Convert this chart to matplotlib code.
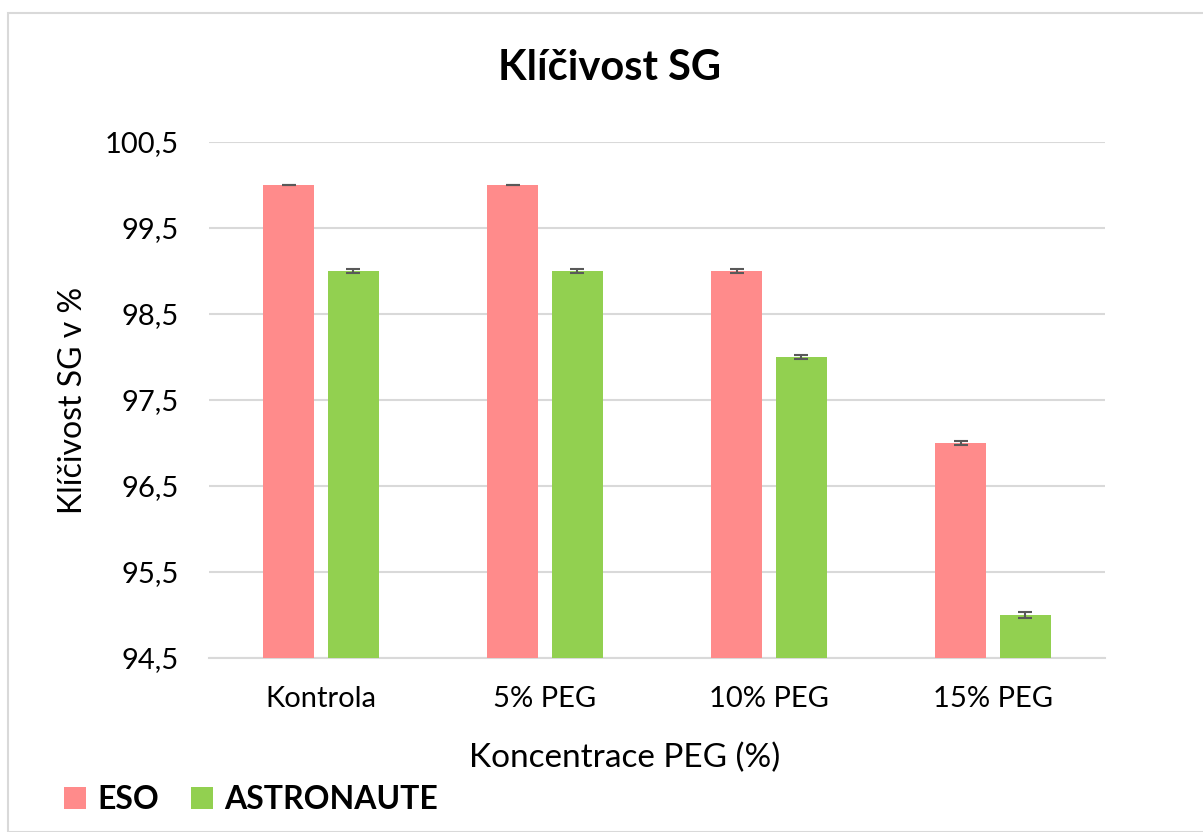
import numpy as np
import matplotlib.pyplot as plt
from matplotlib.patches import Rectangle

# data
categories = ["Kontrola", "5% PEG", "10% PEG", "15% PEG"]
eso = [100.0, 100.0, 99.0, 97.0]
eso_err = [0.003, 0.003, 0.02, 0.02]
astro = [99.0, 99.0, 98.0, 95.0]
astro_err = [0.02, 0.02, 0.02, 0.03]
yticks = [94.5, 95.5, 96.5, 97.5, 98.5, 99.5, 100.5]
ytick_labels = ["94,5", "95,5", "96,5", "97,5", "98,5", "99,5", "100,5"]

plt.rcParams["font.family"] = ["Lato", "DejaVu Sans"]

fig = plt.figure(figsize=(12.03, 8.32), dpi=100)
ax = fig.add_axes([209 / 1203, 1 - 658 / 832, 896 / 1203, 516 / 832])

x = np.arange(len(categories))
w = 0.227
err_kw = dict(ecolor="#595959", elinewidth=1.5, capsize=5, capthick=1.5)
ax.bar(x - 0.145, eso, w, yerr=eso_err, color="#FF8B8B", label="ESO",
       error_kw=err_kw, zorder=3)
ax.bar(x + 0.145, astro, w, yerr=astro_err, color="#92D050", label="ASTRONAUTE",
       error_kw=err_kw, zorder=3)

ax.set_xlim(-0.5, len(categories) - 0.5)
ax.set_ylim(94.5, 100.5)
ax.set_yticks(yticks)
ax.set_yticklabels(ytick_labels)
ax.set_xticks(x)
ax.set_xticklabels(categories)
ax.tick_params(axis="both", length=0, labelsize=21, colors="black")
ax.tick_params(axis="y", pad=22)
ax.tick_params(axis="x", pad=20)
ax.grid(axis="y", color="#D9D9D9", linewidth=1.5, zorder=0)
for s in ["top", "right", "left"]:
    ax.spines[s].set_visible(False)
ax.spines["bottom"].set_color("#D9D9D9")
ax.spines["bottom"].set_linewidth(1.5)

ax.set_ylabel("Klíčivost SG v %", fontsize=23)
ax.yaxis.set_label_coords((88 - 209) / 896, 0.5)
ax.set_xlabel("Koncentrace PEG (%)", fontsize=24, labelpad=22)
ax.xaxis.label.set_x(0.464)
fig.text(610 / 1203, 1 - 68 / 832, "Klíčivost SG", fontsize=30,
         fontweight="bold", ha="center", va="center")

leg = fig.legend(loc="lower left", bbox_to_anchor=(35 / 1203, -11 / 832), ncol=2,
                 frameon=False, fontsize=23, handlelength=0.7, handleheight=0.7,
                 columnspacing=1.0, handletextpad=0.35)
for t in leg.get_texts():
    t.set_fontweight("bold")

fig.patches.append(Rectangle((8 / 1203, 0), 1.2, 1 - 13 / 832,
                             transform=fig.transFigure, fill=False,
                             edgecolor="#D9D9D9", linewidth=1.5))

fig.savefig("out.png", dpi=100)
